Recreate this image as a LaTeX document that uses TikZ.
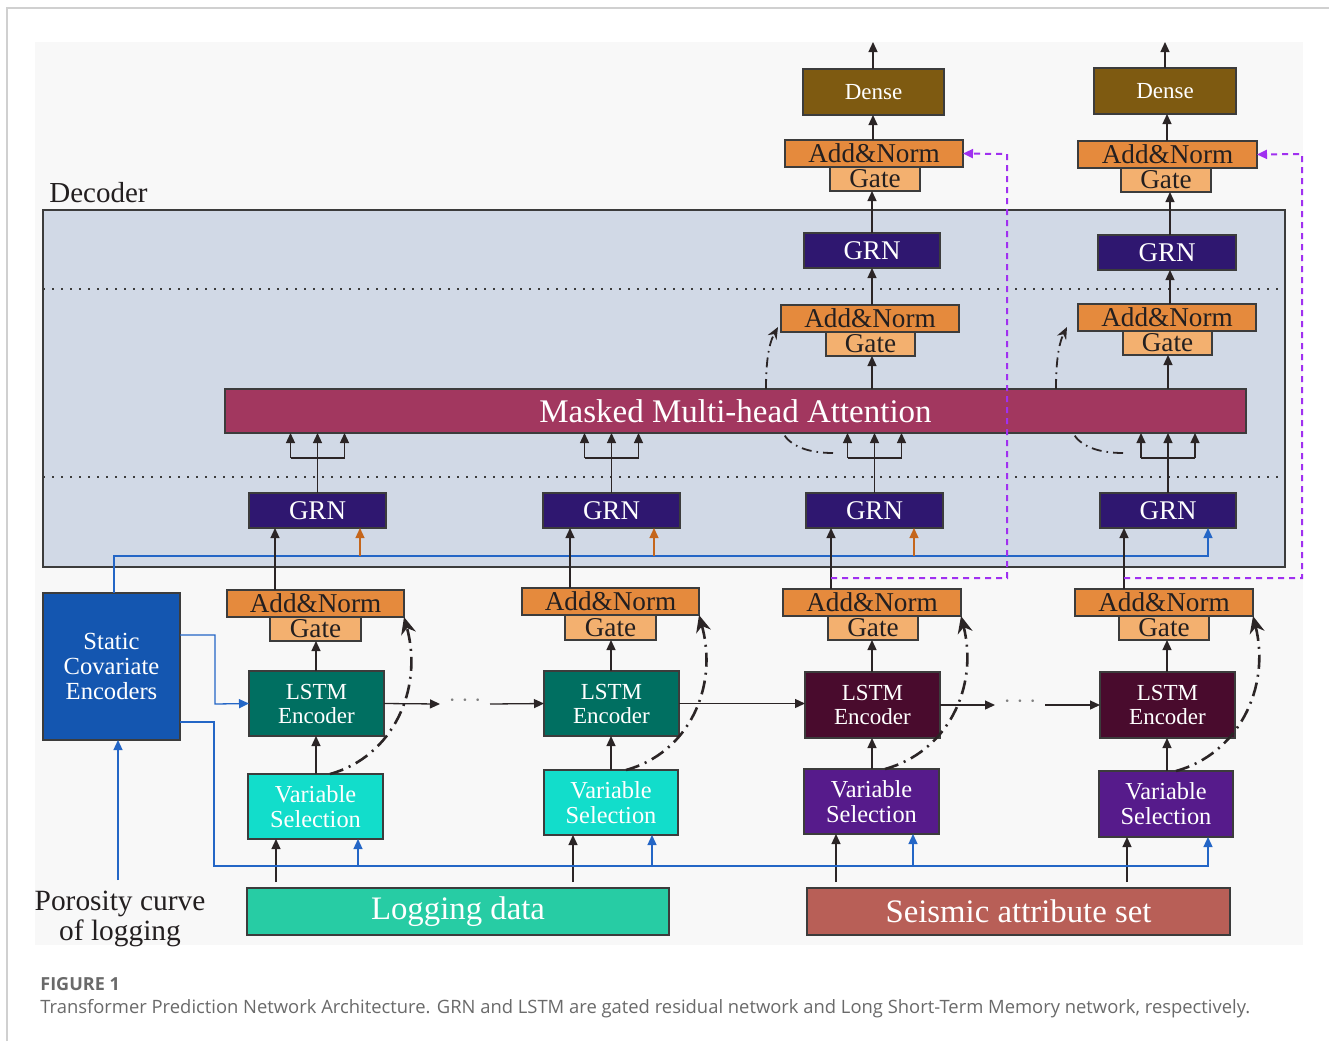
\documentclass[tikz,border=0pt]{standalone}
\usepackage{fontspec}
\setmainfont{Liberation Serif}
\newfontfamily\capfont{Open Sans}
\usetikzlibrary{arrows.meta,calc}
\definecolor{bgc}{HTML}{F8F8F8}
\definecolor{framec}{HTML}{D0D0D0}
\definecolor{decc}{HTML}{D1D9E6}
\definecolor{boxline}{HTML}{3C3C3C}
\definecolor{lnc}{HTML}{2B2526}
\definecolor{attc}{HTML}{A2375F}
\definecolor{grnc}{HTML}{2F1770}
\definecolor{anc}{HTML}{E58A3D}
\definecolor{gatec}{HTML}{F3B06F}
\definecolor{densec}{HTML}{7E5A11}
\definecolor{lstma}{HTML}{006F61}
\definecolor{lstmb}{HTML}{490B2D}
\definecolor{vsa}{HTML}{12DDCB}
\definecolor{vsb}{HTML}{561B8B}
\definecolor{scec}{HTML}{1456B0}
\definecolor{logc}{HTML}{27CCA4}
\definecolor{seic}{HTML}{B85F57}
\definecolor{bluel}{HTML}{2466C6}
\definecolor{orl}{HTML}{C5661C}
\definecolor{purc}{HTML}{A030F0}
\definecolor{capgray}{HTML}{6A6A6A}
\definecolor{txt}{HTML}{231F20}
\newcommand\myfs[2]{\fontsize{#1}{#2}\selectfont}
\newcommand\mybox[7]{%
  \node[#1, minimum width={(#5-#3)*0.5pt}, minimum height={(#6-#4)*0.5pt}] (#2) at ({(#3+#5)/2},{(#4+#6)/2}) {#7};}
\tikzset{
  bx/.style={draw=boxline, line width=0.6pt, inner sep=0pt, outer sep=0pt, align=center},
  decbox/.style={bx, fill=decc},
  attbox/.style={bx, fill=attc, text=white, font=\myfs{16.5}{18}},
  grnbox/.style={bx, fill=grnc, text=white, font=\myfs{13.5}{15}},
  anbox/.style={bx, fill=anc, text=txt, font=\myfs{13.6}{14}},
  gatebox/.style={bx, fill=gatec, text=txt, font=\myfs{13.6}{14}},
  densebox/.style={bx, fill=densec, text=white, font=\myfs{11.5}{13}},
  lstmA/.style={bx, fill=lstma, text=white, font=\myfs{11.5}{12}},
  lstmB/.style={bx, fill=lstmb, text=white, font=\myfs{11.5}{12}},
  vsA/.style={bx, fill=vsa, text=white, font=\myfs{12.2}{12.5}},
  vsB/.style={bx, fill=vsb, text=white, font=\myfs{12.2}{12.5}},
  scebox/.style={bx, fill=scec, text=white, font=\myfs{12.3}{12.5}},
  logbox/.style={bx, fill=logc, text=white, font=\myfs{16.4}{18}},
  seibox/.style={bx, fill=seic, text=white, font=\myfs{16.4}{18}},
  ln/.style={draw=lnc, line width=0.65pt},
  arr/.style={ln, -{Triangle[length=5pt,width=4.5pt]}},
  bl/.style={draw=bluel, line width=0.65pt},
  blarr/.style={bl, -{Triangle[length=5pt,width=4.5pt]}},
  orarr/.style={draw=orl, line width=0.65pt, -{Triangle[length=5pt,width=4.5pt]}},
  dd/.style={draw=lnc, line width=1.3pt, dash pattern=on 7pt off 3pt on 1pt off 3pt, -{Stealth[length=8.5pt,width=7.5pt]}},
  ddd/.style={draw=lnc, line width=0.9pt, dash pattern=on 5pt off 2.5pt on 0.8pt off 2.5pt},
  pur/.style={draw=purc, line width=1pt, dash pattern=on 3pt off 2.5pt, -{Triangle[length=5pt,width=4.5pt]}},
  dotl/.style={draw=boxline, line width=0.8pt, dash pattern=on 0.8pt off 3.7pt},
  dotsnode/.style={inner sep=0pt, text=gray, font=\myfs{11}{11}}
}
\newcommand\branch[1]{%
  \draw[ln] (#1.north) -- (#1.north |- 0,458) coordinate (#1b);
  \draw[ln] ($(#1b)+(-27,0)$) -- ($(#1b)+(27,0)$);
  \foreach \dx in {-27,0,27} \draw[arr] ($(#1b)+(\dx,0)$) -- ($(att.south -| #1b)+(\dx,0)$);
}
\begin{document}
\begin{tikzpicture}[x=0.5pt,y=-0.5pt]
\useasboundingbox (0,0) rectangle (1329,1041);
\fill[white] (0,0) rectangle (1329,1041);
\draw[framec, line width=1pt] (7,1041) -- (7,8) -- (1329,8);
\fill[bgc] (35,42) rectangle (1303,945);

% decoder
\mybox{decbox}{dec}{43}{210}{1285}{567}{}
\node[anchor=base west, font=\myfs{14.5}{16}, text=txt, inner sep=0pt] (declab) at (49,202) {Decoder};
\draw[dotl] (dec.west |- 0,289) -- (dec.east |- 0,289);
\draw[dotl] (dec.west |- 0,477) -- (dec.east |- 0,477);

\mybox{attbox}{att}{225}{389}{1246}{433}{Masked Multi-head Attention}
\mybox{grnbox}{g1}{249}{493}{386}{528}{GRN}
\mybox{grnbox}{g2}{543}{493}{680}{528}{GRN}
\mybox{grnbox}{g3}{806}{493}{943}{528}{GRN}
\mybox{grnbox}{g4}{1100}{493}{1236}{528}{GRN}
\mybox{grnbox}{gu1}{804}{233}{940}{268}{GRN}
\mybox{grnbox}{gu2}{1098}{235}{1236}{270}{GRN}
\mybox{gatebox}{gd1}{826}{332}{915}{356}{Gate}
\mybox{anbox}{and1}{781}{305}{959}{332}{Add\&Norm}
\mybox{gatebox}{gd2}{1123}{331}{1212}{355}{Gate}
\mybox{anbox}{and2}{1078}{304}{1256}{331}{Add\&Norm}

% top
\mybox{gatebox}{gt1}{830}{167}{920}{191}{Gate}
\mybox{anbox}{at1}{785}{140}{963}{167}{Add\&Norm}
\mybox{gatebox}{gt2}{1121}{168}{1211}{192}{Gate}
\mybox{anbox}{at2}{1078}{141}{1257}{168}{Add\&Norm}
\mybox{densebox}{d1}{803}{69}{944}{115}{Dense}
\mybox{densebox}{d2}{1094}{68}{1236}{114}{Dense}

% encoder
\mybox{gatebox}{gb1}{270}{617}{361}{641}{Gate}
\mybox{anbox}{ab1}{227}{590}{404}{617}{Add\&Norm}
\mybox{gatebox}{gb2}{565}{615}{656}{640}{Gate}
\mybox{anbox}{ab2}{522}{588}{699}{615}{Add\&Norm}
\mybox{gatebox}{gb3}{828}{616}{918}{640}{Gate}
\mybox{anbox}{ab3}{783}{589}{961}{616}{Add\&Norm}
\mybox{gatebox}{gb4}{1119}{616}{1209}{640}{Gate}
\mybox{anbox}{ab4}{1075}{589}{1253}{616}{Add\&Norm}

\mybox{lstmA}{l1}{249}{671}{384}{736}{LSTM\\Encoder}
\mybox{lstmA}{l2}{544}{671}{679}{736}{LSTM\\Encoder}
\mybox{lstmB}{l3}{805}{672}{940}{738}{LSTM\\Encoder}
\mybox{lstmB}{l4}{1100}{672}{1235}{738}{LSTM\\Encoder}
\mybox{vsA}{v1}{248}{774}{383}{839}{Variable\\Selection}
\mybox{vsA}{v2}{544}{770}{678}{835}{Variable\\Selection}
\mybox{vsB}{v3}{804}{769}{939}{834}{Variable\\Selection}
\mybox{vsB}{v4}{1099}{771}{1233}{837}{Variable\\Selection}
\mybox{scebox}{sce}{43}{593}{180}{740}{Static\\Covariate\\Encoders}
\mybox{logbox}{log}{247}{888}{669}{935}{Logging data}
\mybox{seibox}{seis}{807}{888}{1230}{935}{Seismic attribute set}
\node[align=center, font=\myfs{14.7}{15}, text=txt, inner sep=0pt] (por) at (120,919) {Porosity curve\\of logging};

% data -> variable selection
\draw[arr, shorten <=3pt] (log.north -| 276,0) -- (v1.south -| 276,0);
\draw[arr, shorten <=3pt] (log.north -| 573,0) -- (v2.south -| 573,0);
\draw[arr, shorten <=3pt] (seis.north -| 836,0) -- (v3.south -| 836,0);
\draw[arr, shorten <=3pt] (seis.north -| 1127,0) -- (v4.south -| 1127,0);

% blue static covariate lines
\coordinate (p0) at (118,880);
\draw[blarr] (p0) -- (sce.south -| p0);
\draw[blarr] (sce.east |- 0,722) -| (214,866) -| (v4.south -| 1208,0);
\draw[blarr] (358,866) -- (v1.south -| 358,0);
\draw[blarr] (652,866) -- (v2.south -| 652,0);
\draw[blarr] (913,866) -- (v3.south -| 913,0);
\draw[blarr] (sce.east |- 0,635) -| (215,704) -- (l1.west);
\draw[blarr] (sce.north -| 114,0) |- (1208,556) -- (g4.south -| 1208,0);
\draw[orarr] (360,556) -- (g1.south -| 360,0);
\draw[orarr] (654,556) -- (g2.south -| 654,0);
\draw[orarr] (914,556) -- (g3.south -| 914,0);

% VS -> LSTM -> Gate
\foreach \n/\x in {1/316,2/611,3/872,4/1167}{
  \draw[arr] (v\n.north -| \x,0) -- (l\n.south -| \x,0);
  \draw[arr] (l\n.north -| \x,0) -- (gb\n.south -| \x,0);
}
% Add&Norm -> GRN
\draw[arr] (ab1.north -| 275,0) -- (g1.south -| 275,0);
\draw[arr] (ab2.north -| 570,0) -- (g2.south -| 570,0);
\draw[arr] (ab3.north -| 831,0) -- (g3.south -| 831,0);
\draw[arr] (ab4.north -| 1124,0) -- (g4.south -| 1124,0);

% LSTM chain
\coordinate (e1) at (440,704);
\node[dotsnode] (dots1) at (465,703) {·~·~·};
\coordinate (s1) at (490,704);
\draw[arr] (l1.east) -- (e1);
\draw[arr] (s1) -- (l2.west);
\draw[arr] (l2.east) -- (l3.west |- l2.east);
\coordinate (e2) at (995,705);
\node[dotsnode] (dots2) at (1020,704) {·~·~·};
\coordinate (s2) at (1045,705);
\draw[arr] (l3.east) -- (e2);
\draw[arr] (s2) -- (l4.west);

% residual dash-dot curves (encoder)
\draw[dd] (v1.north -| 330,0) .. controls (392,757) and (424,690) .. (ab1.south east);
\draw[dd] (v2.north -| 626,0) .. controls (688,753) and (719,688) .. (ab2.south east);
\draw[dd] (v3.north -| 885,0) .. controls (947,752) and (979,688) .. (ab3.south east);
\draw[dd] (v4.north -| 1176,0) .. controls (1238,754) and (1271,688) .. (ab4.south east);

% GRN -> attention
\branch{g1}
\branch{g2}
\branch{g3}
\branch{g4}

% attention -> decoder gates
\draw[arr] (att.north -| 872,0) -- (gd1.south -| 872,0);
\draw[arr] (att.north -| 1168,0) -- (gd2.south -| 1168,0);
\draw[arr] (and1.north -| 872,0) -- (gu1.south -| 872,0);
\draw[arr] (and2.north -| 1170,0) -- (gu2.south -| 1170,0);
\draw[arr] (gu1.north -| 872,0) -- (gt1.south -| 872,0);
\draw[arr] (gu2.north -| 1170,0) -- (gt2.south -| 1170,0);
\draw[arr] (at1.north -| 873,0) -- (d1.south -| 873,0);
\draw[arr] (at2.north -| 1167,0) -- (d2.south -| 1167,0);
\coordinate (o1) at (873,42);
\coordinate (o2) at (1165,42);
\draw[arr] (d1.north -| o1) -- (o1);
\draw[arr] (d2.north -| o2) -- (o2);

% decoder residual dash-dots
\coordinate (r1) at (778,327);
\coordinate (r2) at (1067,327);
\coordinate (c1) at (833,453);
\coordinate (c2) at (1123,453);
\draw[ddd, -{Stealth[length=6pt,width=5pt]}] (att.north -| 766,0) .. controls (766,365) and (768,345) .. (r1);
\draw[ddd, -{Stealth[length=6pt,width=5pt]}] (att.north -| 1056,0) .. controls (1056,365) and (1058,345) .. (r2);
\draw[ddd] (c1) .. controls (808,453) and (790,446) .. (att.south -| 783,0);
\draw[ddd] (c2) .. controls (1098,453) and (1080,446) .. (att.south -| 1073,0);

% purple skip lines
\coordinate (q1) at (831,578);
\coordinate (q2) at (1124,578);
\draw[pur] (q1) -| (1007,154) -- (at1.east);
\draw[pur] (q2) -| (1302,154) -- (at2.east);

% caption
\node[anchor=base west, inner sep=0pt, font=\capfont\bfseries\myfs{9}{11}, text=capgray] (figlab) at (40,990) {FIGURE 1};
\node[anchor=base west, inner sep=0pt, font=\capfont\myfs{9.2}{10}, text=capgray] (cap) at (40,1013) {Transformer Prediction Network Architecture. GRN and LSTM are gated residual network and Long Short-Term Memory network, respectively.};
\end{tikzpicture}
\end{document}
